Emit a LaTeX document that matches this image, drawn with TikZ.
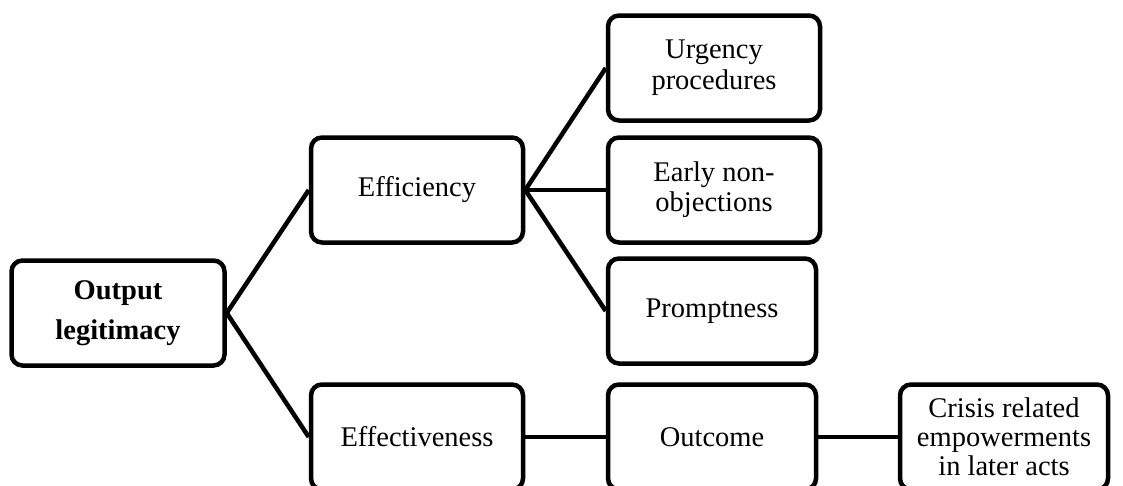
\documentclass[tikz,border=0pt]{standalone}
\usepackage{fontspec}
\setmainfont{Liberation Serif}
\begin{document}
\begin{tikzpicture}[x=1pt,y=-1pt,
  box/.style={draw=black,line width=4.5pt,rounded corners=11pt,fill=white,
    minimum width=212pt,minimum height=105pt,align=center,inner sep=2pt,
    font=\fontsize{28.5pt}{31pt}\selectfont},
  conn/.style={line width=4.5pt}]
\useasboundingbox (0,0) rectangle (1123,485);
\node[box,minimum width=213pt,font=\fontsize{28.5pt}{40pt}\selectfont\bfseries] (out) at (118,313) {Output\\legitimacy};
\node[box] (eff) at (417,190) {Efficiency};
\node[box] (effv) at (417,437) {Effectiveness};
\node[box] (urg) at (714,68) {Urgency\\procedures};
\node[box,font=\fontsize{28.5pt}{30pt}\selectfont] (early) at (714,190) {Early non-\\objections};
\node[box,minimum width=208pt] (prompt) at (712,311) {Promptness};
\node[box,minimum width=208pt] (outc) at (712,437) {Outcome};
\node[box,minimum width=208pt,font=\fontsize{28.5pt}{29pt}\selectfont] (crisis) at (1004,437) {Crisis related\\empowerments\\in later acts};
\draw[conn] (out.east) -- (eff.west);
\draw[conn] (out.east) -- (effv.west);
\draw[conn] (eff.east) -- (urg.west);
\draw[conn] (eff.east) -- (early.west);
\draw[conn] (eff.east) -- (prompt.west);
\draw[conn] (effv.east) -- (outc.west);
\draw[conn] (outc.east) -- (crisis.west);
\end{tikzpicture}
\end{document}
